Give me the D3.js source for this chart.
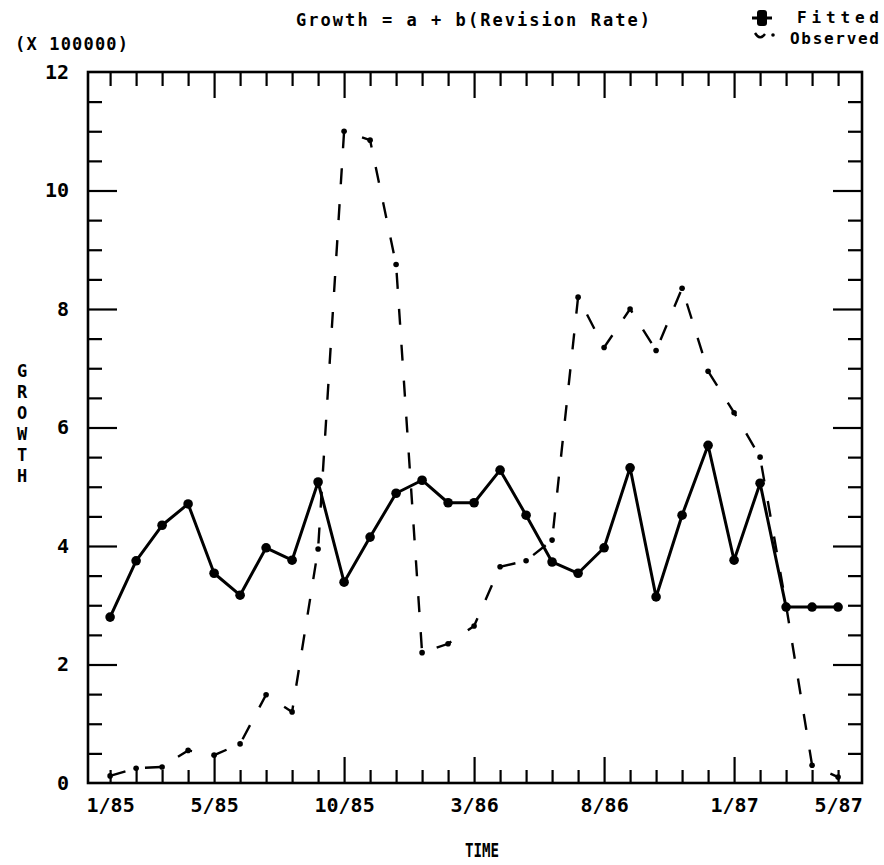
<!DOCTYPE html>
<html>
<head>
<meta charset="utf-8">
<script src="https://cdn.jsdelivr.net/npm/d3@7"></script>
<style>
  html, body { margin: 0; padding: 0; background: #fff; }
  svg { display: block; }
  text { font-family: "DejaVu Sans Mono", "Liberation Mono", monospace; font-weight: bold; fill: #000; }
</style>
</head>
<body>
<svg id="chart" width="884" height="865"></svg>
<script>
// Monthly periods, 1/85 through 5/87
const months = [
  "1/85","2/85","3/85","4/85","5/85","6/85","7/85","8/85","9/85","10/85","11/85","12/85",
  "1/86","2/86","3/86","4/86","5/86","6/86","7/86","8/86","9/86","10/86","11/86","12/86",
  "1/87","2/87","3/87","4/87","5/87"
];

// Growth (x 100000) predicted by the regression on revision rate
const fitted = [
  2.80, 3.75, 4.35, 4.71, 3.54, 3.17, 3.97, 3.76, 5.08, 3.39, 4.15, 4.89,
  5.11, 4.73, 4.73, 5.28, 4.52, 3.73, 3.54, 3.97, 5.32, 3.14, 4.52, 5.70,
  3.76, 5.06, 2.97, 2.97, 2.97
];

// Growth (x 100000) actually observed
const observed = [
  0.12, 0.25, 0.27, 0.55, 0.47, 0.66, 1.49, 1.20, 3.95, 11.00, 10.85, 8.75,
  2.20, 2.35, 2.65, 3.65, 3.75, 4.10, 8.20, 7.35, 8.00, 7.30, 8.35, 6.95,
  6.25, 5.50, 3.00, 0.30, 0.10
];

const xTickLabels = ["1/85", "5/85", "10/85", "3/86", "8/86", "1/87", "5/87"];
const xMajorTicks = ["5/85", "10/85", "3/86", "8/86", "1/87"];
const yTickLabels = [0, 2, 4, 6, 8, 10, 12];

const title = "Growth = a + b(Revision Rate)";
const yUnit = "(X 100000)";
const xTitle = "TIME";
const yTitle = "GROWTH";
const seriesNames = ["Fitted", "Observed"];

const svg = d3.select("#chart");
const plot = { left: 88, right: 862, top: 72, bottom: 783 };

const x = d3.scaleLinear().domain([-0.85, 28.92]).range([plot.left, plot.right]);
const y = d3.scaleLinear().domain([0, 12]).range([plot.bottom, plot.top]);

const idx = d3.range(months.length);
const majorIdx = xMajorTicks.map(m => months.indexOf(m));
const minorIdx = idx.filter(i => !majorIdx.includes(i));
const yAll = d3.range(0, 12.001, 0.5).filter(v => v > 0 && v < 12);
const yMajor = yAll.filter(v => v % 2 === 0);
const yMinor = yAll.filter(v => v % 2 !== 0);

function tickAxis(axis, transform) {
  const g = svg.append("g").attr("transform", transform).call(axis);
  g.select(".domain").remove();
  g.selectAll(".tick text").remove();
  g.selectAll(".tick line").attr("stroke", "#000").attr("stroke-width", 2.2);
  return g;
}

// Inward ticks on all four sides
tickAxis(d3.axisBottom(x).tickValues(minorIdx).tickSize(-13), `translate(0,${plot.bottom})`);
tickAxis(d3.axisBottom(x).tickValues(majorIdx).tickSize(-26), `translate(0,${plot.bottom})`);
tickAxis(d3.axisTop(x).tickValues(minorIdx).tickSize(-14), `translate(0,${plot.top})`);
tickAxis(d3.axisTop(x).tickValues(majorIdx).tickSize(-26), `translate(0,${plot.top})`);
tickAxis(d3.axisLeft(y).tickValues(yMinor).tickSize(-14), `translate(${plot.left},0)`);
tickAxis(d3.axisLeft(y).tickValues(yMajor).tickSize(-29), `translate(${plot.left},0)`);
tickAxis(d3.axisRight(y).tickValues(yMinor).tickSize(-14), `translate(${plot.right},0)`);
tickAxis(d3.axisRight(y).tickValues(yMajor).tickSize(-29), `translate(${plot.right},0)`);

// Plot frame
svg.append("rect")
  .attr("x", plot.left).attr("y", plot.top)
  .attr("width", plot.right - plot.left).attr("height", plot.bottom - plot.top)
  .attr("fill", "none").attr("stroke", "#000").attr("stroke-width", 2.6);

// Tick labels
const xLab = svg.append("g").attr("transform", `translate(0,${plot.bottom})`)
  .call(d3.axisBottom(x).tickValues(xTickLabels.map(m => months.indexOf(m)))
    .tickSize(0).tickPadding(15).tickFormat(i => months[i]));
xLab.select(".domain").remove();
xLab.selectAll("text").attr("font-size", 20).attr("font-family", null);

const yLab = svg.append("g").attr("transform", `translate(${plot.left},0)`)
  .call(d3.axisLeft(y).tickValues(yTickLabels).tickSize(0).tickPadding(19).tickFormat(d3.format("d")));
yLab.select(".domain").remove();
yLab.selectAll("text").attr("font-size", 20).attr("font-family", null);

// Series
const line = d3.line().x((d, i) => x(i)).y(d => y(d));

svg.append("path").datum(observed)
  .attr("d", line).attr("fill", "none").attr("stroke", "#000")
  .attr("stroke-width", 2.4).attr("stroke-dasharray", "16,20");

svg.append("g").selectAll("circle").data(observed).join("circle")
  .attr("cx", (d, i) => x(i)).attr("cy", d => y(d)).attr("r", 2.8).attr("fill", "#000");

svg.append("path").datum(fitted)
  .attr("d", line).attr("fill", "none").attr("stroke", "#000")
  .attr("stroke-width", 3).attr("stroke-linejoin", "round");

svg.append("g").selectAll("circle").data(fitted).join("circle")
  .attr("cx", (d, i) => x(i)).attr("cy", d => y(d)).attr("r", 4.8).attr("fill", "#000");

// Titles
svg.append("text").attr("x", 296).attr("y", 26).attr("font-size", 17)
  .attr("textLength", 354).attr("lengthAdjust", "spacing").text(title);
svg.append("text").attr("x", 15).attr("y", 50).attr("font-size", 17)
  .attr("textLength", 113).attr("lengthAdjust", "spacing").text(yUnit);
svg.append("text").attr("x", 482).attr("y", 857).attr("font-size", 19)
  .attr("text-anchor", "middle").attr("textLength", 34).attr("lengthAdjust", "spacingAndGlyphs")
  .text(xTitle);

// Vertical stacked axis title
svg.append("g").selectAll("text").data(yTitle.split("")).join("text")
  .attr("x", 22).attr("y", (d, i) => 377 + i * 21)
  .attr("text-anchor", "middle").attr("font-size", 17)
  .text(d => d);

// Legend
const leg = svg.append("g");
leg.append("line").attr("x1", 752).attr("x2", 772).attr("y1", 18).attr("y2", 18)
  .attr("stroke", "#000").attr("stroke-width", 3);
leg.append("rect").attr("x", 757).attr("y", 10).attr("width", 10).attr("height", 16)
  .attr("rx", 3).attr("fill", "#000");
leg.append("text").attr("x", 797).attr("y", 23).attr("font-size", 16)
  .attr("textLength", 82).attr("lengthAdjust", "spacing").text(seriesNames[0]);

leg.append("path").attr("d", "M755,33 Q760,41 765,34")
  .attr("fill", "none").attr("stroke", "#000").attr("stroke-width", 2.4);
leg.append("circle").attr("cx", 773).attr("cy", 35).attr("r", 1.8).attr("fill", "#000");
leg.append("text").attr("x", 790).attr("y", 44).attr("font-size", 16)
  .attr("textLength", 89).attr("lengthAdjust", "spacing").text(seriesNames[1]);
</script>
</body>
</html>
